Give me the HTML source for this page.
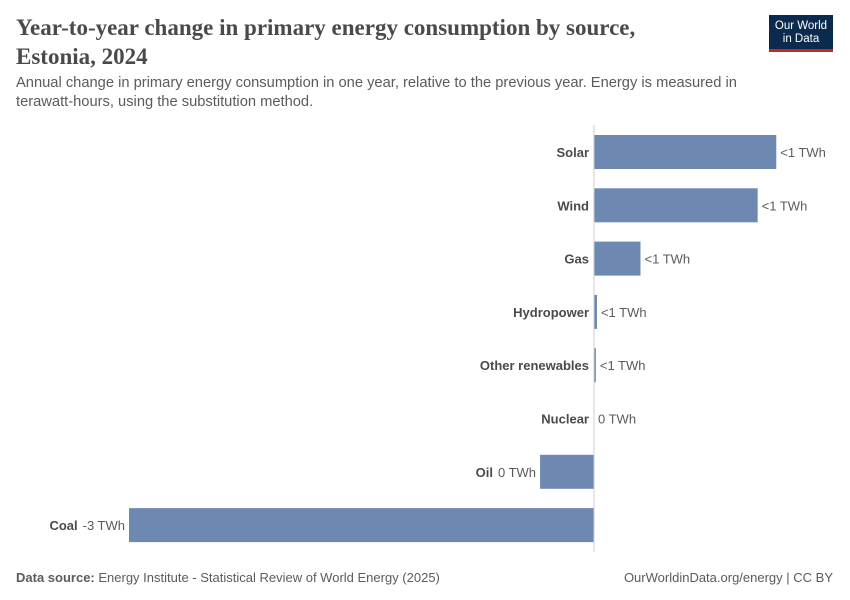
<!DOCTYPE html>
<html><head><meta charset="utf-8"><style>
body{margin:0;background:#fff;font-family:"Liberation Sans",sans-serif;}
#wrap{position:relative;width:850px;height:600px;overflow:hidden;}
.title{position:absolute;left:16px;top:13px;font-family:"Liberation Serif",serif;font-size:23px;line-height:29px;color:#4a4a4a;font-weight:bold;}
.sub{position:absolute;left:16px;top:74px;font-size:14.7px;line-height:19px;color:#5b5b5b;width:740px;}
.logo{position:absolute;left:769px;top:15px;width:64px;height:37px;background:#0c2a4e;border-bottom:3px solid #c1272d;color:#fff;font-size:11.5px;line-height:13px;text-align:center;box-sizing:border-box;padding-top:5px;}
.foot{position:absolute;top:570px;font-size:13px;color:#5b5b5b;}
</style></head><body>
<div id="wrap">
<div class="title">Year-to-year change in primary energy consumption by source,<br>Estonia, 2024</div>
<div class="sub">Annual change in primary energy consumption in one year, relative to the previous year. Energy is measured in terawatt-hours, using the substitution method.</div>
<div class="logo">Our World<br>in Data</div>
<svg id="svg" width="850" height="600" style="position:absolute;left:0;top:0"></svg>
<div class="foot" style="left:16px"><b>Data source:</b> Energy Institute - Statistical Review of World Energy (2025)</div>
<div class="foot" style="right:17px">OurWorldinData.org/energy | CC BY</div>
</div>
<script>
const categories=["Solar","Wind","Gas","Hydropower","Other renewables","Nuclear","Oil","Coal"];
const values=[0.98,0.88,0.25,0.016,0.01,0,-0.29,-2.5];
const valueLabels=["<1 TWh","<1 TWh","<1 TWh","<1 TWh","<1 TWh","0 TWh","0 TWh","-3 TWh"];
const svg=document.getElementById('svg');
const NS="http://www.w3.org/2000/svg";
const x0=594, scale=186, top0=135, pitch=53.3, bh=34;
const xs=v=>x0+v*scale;
const ys=i=>top0+i*pitch;
function mk(t,a){const e=document.createElementNS(NS,t);for(const k in a)e.setAttribute(k,a[k]);svg.appendChild(e);return e;}
categories.forEach((c,i)=>{
  const v=values[i],y=ys(i),x=xs(v);
  const r=mk('rect',{x:Math.min(x,x0),y:y,width:Math.abs(x-x0),height:bh,fill:'#6d88b1'});
  
  
  const cy=y+bh/2+5;
  let lx, vx;
  if(v>=0){lx=x0-5;vx=x+4;}else{vx=x-4;}
  const vt=mk('text',{x:vx,y:cy,'font-size':13,fill:'#5b5b5b','text-anchor':v>=0?'start':'end'});
  vt.textContent=valueLabels[i];
  
  
  if(v<0){lx=vx-vt.getComputedTextLength()-5;}
  const ct=mk('text',{x:lx,y:cy,'font-size':13,'font-weight':'bold',fill:'#4a4a4a','text-anchor':'end'});
  ct.textContent=c;
  
  
});
const zl=mk('line',{x1:x0,x2:x0,y1:125,y2:552,stroke:'#ccc','stroke-width':1});


</script>
</body></html>
